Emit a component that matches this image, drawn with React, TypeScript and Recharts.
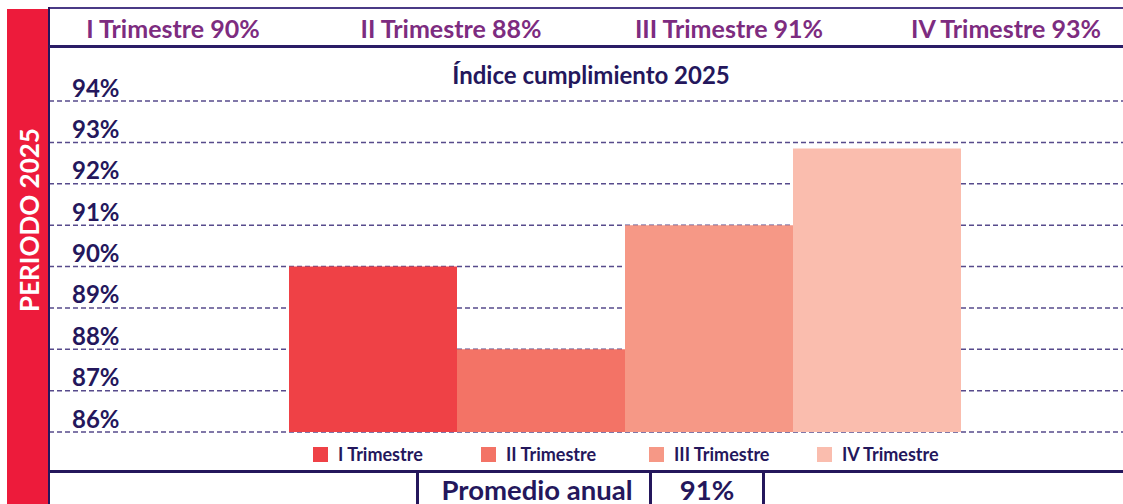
import React from 'react';
import { BarChart, Bar, XAxis, YAxis, CartesianGrid, Legend } from 'recharts';

const SERIES = ['I Trimestre', 'II Trimestre', 'III Trimestre', 'IV Trimestre'];
const VALUES = [90, 88, 91, 92.85];
const HEADER_PCT = [90, 88, 91, 93];
const COLORS = ['#ef4146', '#f37366', '#f69886', '#fabdae'];
const Y_TICKS = [86, 87, 88, 89, 90, 91, 92, 93, 94];
const AVERAGE = 91;
const TITLE = 'Índice cumplimiento 2025';

const FONT = "Lato, 'Open Sans', sans-serif";
const NAVY = '#24175c';
const PURPLE = '#7d2c80';

const chartData = [
  SERIES.reduce<Record<string, string | number>>(
    (row, s, i) => {
      row[s] = VALUES[i];
      return row;
    },
    { name: '2025' }
  ),
];

const HEADER_X = [173, 451, 729, 1006];

const YTick = (props: any) => {
  const { x, y, payload } = props;
  return (
    <text x={x + 23} y={y - 14} fill={NAVY} fontFamily={FONT} fontWeight={700} fontSize={24} textAnchor="start" dominantBaseline="central">
      {payload.value}%
    </text>
  );
};

const LegendContent = (props: any) => {
  const { payload } = props;
  return (
    <div style={{ display: 'flex' }}>
      {(payload || []).map((p: any) => (
        <div key={p.value} style={{ width: 168, display: 'flex', alignItems: 'center' }}>
          <span style={{ width: 15, height: 15, background: p.color, display: 'inline-block', marginRight: 10 }} />
          <span style={{ color: NAVY, fontFamily: FONT, fontWeight: 700, fontSize: 18 }}>{p.value}</span>
        </div>
      ))}
    </div>
  );
};

const line = (left: number, top: number, width: number, height: number, color = NAVY): React.CSSProperties => ({
  position: 'absolute',
  left,
  top,
  width,
  height,
  background: color,
});

const label = (left: number, top: number, color: string, fontSize: number): React.CSSProperties => ({
  position: 'absolute',
  left,
  top,
  transform: 'translate(-50%, -50%)',
  color,
  fontFamily: FONT,
  fontWeight: 700,
  fontSize,
  whiteSpace: 'nowrap',
});

export default function App() {
  return (
    <div style={{ position: 'absolute', left: 0, top: 0, width: 1123, height: 504, background: '#fff', overflow: 'hidden' }}>
      <div style={{ position: 'absolute', left: 7, top: 9, width: 42, height: 495, background: '#ed1b3b' }} />
      <div style={{ ...label(29, 220, '#fff', 26), transform: 'translate(-50%, -50%) rotate(-90deg)' }}>PERIODO 2025</div>

      <div style={{ position: 'absolute', left: 0, top: 0 }}>
        <BarChart
          width={1123}
          height={504}
          data={chartData}
          margin={{ top: 101, right: 0, bottom: 72, left: 0 }}
          barGap={0}
        >
          <CartesianGrid vertical={false} stroke="#3a2c78" strokeOpacity={0.85} strokeWidth={1.5} strokeDasharray="5 3" />
          <XAxis dataKey="name" type="category" hide padding={{ left: 78, right: 0 }} />
          <YAxis
            domain={[86, 94]}
            ticks={Y_TICKS}
            axisLine={false}
            tickLine={false}
            tickSize={0}
            tickMargin={0}
            width={49}
            tick={(p: any) => <YTick {...p} />}
            interval={0}
          />
          <Legend
            verticalAlign="middle"
            layout="horizontal"
            content={<LegendContent />}
            wrapperStyle={{ left: 313, top: 443, width: 672 }}
          />
          {SERIES.map((s, i) => (
            <Bar key={s} dataKey={s} fill={COLORS[i]} barSize={168} isAnimationActive={false} />
          ))}
        </BarChart>
      </div>

      <div style={line(49, 7, 1074, 2, '#4a3a86')} />
      <div style={line(48, 7, 2, 497)} />
      <div style={line(49, 45, 1074, 3, '#2a1d66')} />
      {SERIES.map((s, i) => (
        <div key={s} style={label(HEADER_X[i], 28, PURPLE, 25)}>
          {s} {HEADER_PCT[i]}%
        </div>
      ))}
      <div style={label(591, 74, NAVY, 24)}>{TITLE}</div>

      <div style={line(49, 470, 1074, 3)} />
      <div style={line(416, 471, 3, 33)} />
      <div style={line(649, 471, 3, 33)} />
      <div style={line(762, 471, 3, 33)} />
      <div style={label(537, 489, NAVY, 27.5)}>Promedio anual</div>
      <div style={label(707, 489, NAVY, 27.5)}>{AVERAGE}%</div>
    </div>
  );
}
